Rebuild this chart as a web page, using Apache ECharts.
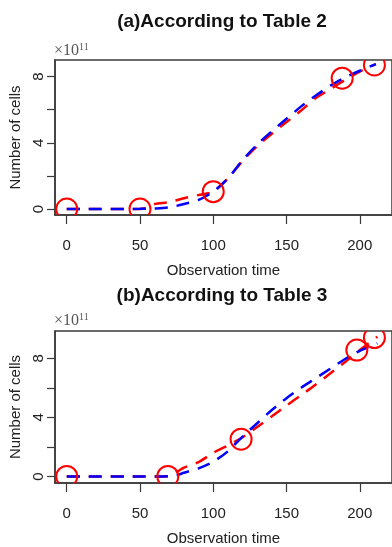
<!DOCTYPE html>
<html>
<head>
<meta charset="utf-8">
<script src="https://cdn.jsdelivr.net/npm/echarts@6/dist/echarts.min.js"></script>
<style>
  html, body { margin: 0; padding: 0; background: #fff; }
  #chart { width: 392px; height: 547px; }
</style>
</head>
<body>
<div id="chart"></div>
<script>
// Panel (a): observations and two fitted growth curves (units of 1e11 cells)
const obsTimeA = [0, 50, 100, 188, 210];
const obsCellsA = [0, 0, 1.05, 7.9, 8.7];
const fitTimeA = [0, 10, 20, 30, 40, 50, 55, 60, 70, 80, 90, 100, 110, 120, 130, 140, 150, 160, 170, 180, 190, 200, 211];
const fitBlueA = [0, 0, 0, 0, 0, 0.01, 0.02, 0.03, 0.1, 0.3, 0.55, 1.05, 1.85, 2.95, 3.9, 4.7, 5.45, 6.2, 6.85, 7.45, 7.95, 8.35, 8.75];
const fitRedA  = [0, 0, 0, 0, 0, 0, 0.1, 0.3, 0.42, 0.65, 0.85, 1.05, 1.85, 2.9, 3.8, 4.55, 5.25, 5.95, 6.7, 7.25, 7.8, 8.3, 8.75];

// Panel (b)
const obsTimeB = [0, 69, 119, 198, 210];
const obsCellsB = [0, 0, 2.52, 8.55, 9.4];
const fitTimeB = [0, 10, 20, 30, 40, 50, 60, 70, 75, 80, 90, 100, 110, 120, 130, 140, 150, 160, 170, 180, 190, 200, 212];
const fitBlueB = [0, 0, 0, 0, 0, 0, 0, 0.02, 0.08, 0.25, 0.55, 1.0, 1.7, 2.7, 3.6, 4.5, 5.3, 6.0, 6.65, 7.3, 7.95, 8.5, 9.0];
const fitRedB  = [0, 0, 0, 0, 0, 0, 0, 0.03, 0.3, 0.6, 0.97, 1.6, 2.1, 2.65, 3.35, 4.07, 4.8, 5.5, 6.22, 6.98, 7.75, 8.55, 9.45];

const xTicks = [0, 50, 100, 150, 200];
const yTicks = [0, 2, 4, 6, 8];
const yLabels = [0, 4, 8];

const titles = ['(a)According to Table 2', '(b)According to Table 3'];
const xName = 'Observation time';
const yName = 'Number of cells';

const pairs = (xs, ys) => xs.map((x, i) => [x, ys[i]]);

const font = '"Liberation Sans", Arial, sans-serif';
const axisColor = '#3a3a3a';

function xAxis(gridIndex) {
  return {
    type: 'value', gridIndex, min: -8, max: 222,
    name: xName, nameLocation: 'middle', nameGap: 48,
    nameTextStyle: { fontFamily: font, fontSize: 15, color: '#222' },
    axisLine: { show: true, onZero: false, lineStyle: { color: axisColor, width: 1.5 } },
    axisTick: { show: true, inside: false, length: 9, customValues: xTicks, lineStyle: { color: axisColor, width: 1.2 } },
    axisLabel: { customValues: xTicks, margin: 23, fontFamily: font, fontSize: 15, color: '#222' },
    splitLine: { show: false }
  };
}

function yAxis(gridIndex, min, max) {
  return {
    type: 'value', gridIndex, min, max,
    name: yName, nameLocation: 'middle', nameGap: 28,
    nameTextStyle: { fontFamily: font, fontSize: 15, color: '#222' },
    axisLine: { show: true, onZero: false, lineStyle: { color: axisColor, width: 1.5 } },
    axisTick: { show: true, inside: false, length: 8, customValues: yTicks, lineStyle: { color: axisColor, width: 1.2 } },
    axisLabel: { customValues: yLabels, rotate: 90, margin: 9, fontFamily: font, fontSize: 15, color: '#222' },
    splitLine: { show: false }
  };
}

function curve(idx, xs, ys, color) {
  return {
    type: 'line', xAxisIndex: idx, yAxisIndex: idx,
    data: pairs(xs, ys), smooth: 0.25, showSymbol: false, clip: true,
    lineStyle: { color, width: 2.5, type: [13, 9] }, z: color === '#0000ff' ? 3 : 2
  };
}

// Open circles, clipped to the plot box like the curves
function points(idx, xs, ys) {
  return {
    type: 'custom', xAxisIndex: idx, yAxisIndex: idx, clip: true, z: 4,
    data: pairs(xs, ys),
    renderItem: (params, api) => {
      const c = api.coord([api.value(0), api.value(1)]);
      return {
        type: 'circle',
        shape: { cx: c[0], cy: c[1], r: 10.5 },
        style: { fill: 'none', stroke: '#ff0000', lineWidth: 2 }
      };
    }
  };
}

function exponentLabel(y) {
  return {
    type: 'text', left: 54, top: y,
    style: {
      text: '{b|×10}{s|11}',
      rich: {
        b: { fontFamily: '"Liberation Serif", "DejaVu Serif", serif', fontSize: 16, fill: '#555' },
        s: { fontFamily: '"Liberation Serif", "DejaVu Serif", serif', fontSize: 10, fill: '#555', verticalAlign: 'top', padding: [0, 0, 8, 0] }
      }
    }
  };
}

function titleText(y, text) {
  return {
    type: 'text', x: 222, y,
    style: { text, fontFamily: font, fontWeight: 'bold', fontSize: 19, fill: '#111', textAlign: 'center', textVerticalAlign: 'middle' }
  };
}

const chart = echarts.init(document.getElementById('chart'), null, { renderer: 'canvas' });
chart.setOption({
  animation: false,
  backgroundColor: '#fff',
  grid: [
    { left: 55, top: 60, width: 344, height: 155, show: true, borderColor: axisColor, borderWidth: 1.5, backgroundColor: 'transparent' },
    { left: 55, top: 331, width: 344, height: 156, show: true, borderColor: axisColor, borderWidth: 1.5, backgroundColor: 'transparent' }
  ],
  xAxis: [xAxis(0), xAxis(1)],
  yAxis: [yAxis(0, -0.36, 9.0), yAxis(1, -0.44, 9.84)],
  series: [
    curve(0, fitTimeA, fitRedA, '#ff0000'),
    curve(0, fitTimeA, fitBlueA, '#0000ff'),
    points(0, obsTimeA, obsCellsA),
    curve(1, fitTimeB, fitRedB, '#ff0000'),
    curve(1, fitTimeB, fitBlueB, '#0000ff'),
    points(1, obsTimeB, obsCellsB)
  ],
  graphic: [
    titleText(22, titles[0]),
    titleText(296, titles[1]),
    exponentLabel(42),
    exponentLabel(312)
  ]
});
</script>
</body>
</html>
